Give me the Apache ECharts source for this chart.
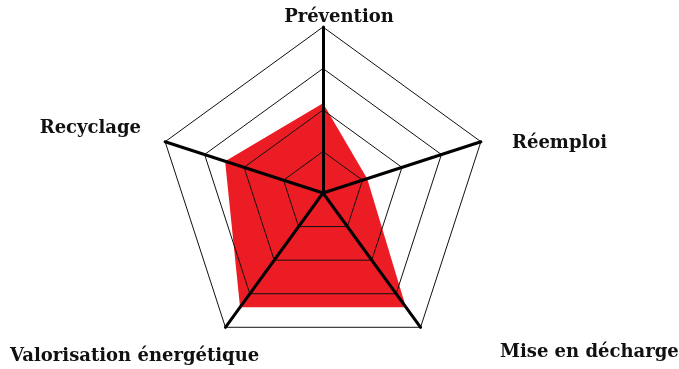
<!DOCTYPE html>
<html>
<head>
<meta charset="utf-8">
<script src="https://cdn.jsdelivr.net/npm/echarts@6/dist/echarts.min.js"></script>
<style>
	html, body { margin: 0; padding: 0; background: #fff; }
	#chart { width: 679px; height: 369px; }
</style>
</head>
<body>
<div id="chart"></div>
<script>
	// axes of the radar (echarts lays them out counter-clockwise from the top)
	var axesNames = ['Prévention', 'Recyclage', 'Valorisation énergétique', 'Mise en décharge', 'Réemploi'];
	var axisMax = 100;
	// values (share of the axis length)
	var values = [54, 62, 85, 85, 28];

	var labelFont = 'bold 18px "DejaVu Serif"';

	// axis titles sit where the original drawing puts them
	function axisTitle(i, x, y, align) {
		return {
			type: 'text', x: x, y: y,
			style: { text: axesNames[i], font: labelFont, fill: '#111', align: align, verticalAlign: 'middle' }
		};
	}

	var chart = echarts.init(document.getElementById('chart'));
	chart.setOption({
		animation: false,
		backgroundColor: '#fff',
		radar: {
			z: 3,
			center: [323, 193],
			radius: 166,
			startAngle: 90,
			splitNumber: 4,
			shape: 'polygon',
			axisName: { show: false },
			indicator: axesNames.map(function (n) { return { name: n, max: axisMax }; }),
			axisLine: { lineStyle: { color: '#000', width: 3 } },
			splitLine: { lineStyle: { color: '#111', width: 1 } },
			splitArea: { show: false }
		},
		series: [{
			type: 'radar',
			z: 2,
			symbol: 'none',
			lineStyle: { width: 0 },
			areaStyle: { color: '#ec1c24', opacity: 1 },
			data: [{ value: values, name: 'Gestion des déchets' }]
		}],
		graphic: [
			axisTitle(0, 339, 17, 'center'),
			axisTitle(1, 141, 128, 'right'),
			axisTitle(2, 10, 356, 'left'),
			axisTitle(3, 500, 352, 'left'),
			axisTitle(4, 512, 143, 'left')
		]
	});
</script>
</body>
</html>
